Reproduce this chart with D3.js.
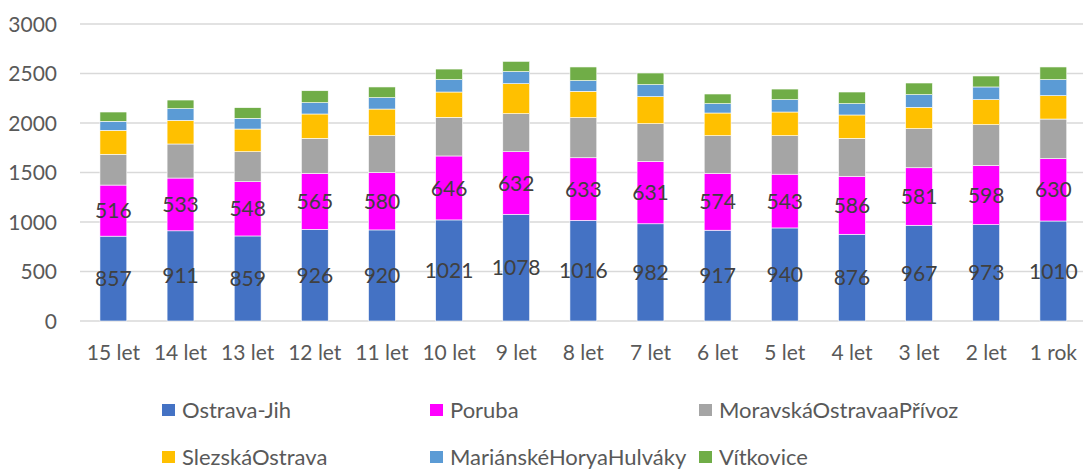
<!DOCTYPE html>
<html><head><meta charset="utf-8">
<script src="https://cdn.jsdelivr.net/npm/d3@7"></script>
<style>
html,body{margin:0;padding:0;background:#fff;}
svg text{font-family:"Lato","Open Sans",sans-serif;}
</style></head>
<body>
<svg id="c" width="1083" height="470"></svg>
<script>
const categories = ["15 let","14 let","13 let","12 let","11 let","10 let","9 let","8 let","7 let","6 let","5 let","4 let","3 let","2 let","1 rok"];
const seriesNames = ["Ostrava-Jih","Poruba","MoravskáOstravaaPřívoz","SlezskáOstrava","MariánskéHoryaHulváky","Vítkovice"];
const ostravaJih = [857,911,859,926,920,1021,1078,1016,982,917,940,876,967,973,1010];
const poruba = [516,533,548,565,580,646,632,633,631,574,543,586,581,598,630];
const moravskaOstrava = [311,344,303,354,372,390,384,405,380,381,389,383,395,412,400];
const slezskaOstrava = [242,239,229,246,269,256,303,266,273,229,239,236,215,253,236];
const marianskeHory = [91,118,108,114,115,125,122,108,121,94,125,114,128,128,162];
const vitkovice = [94,87,108,121,108,107,104,138,118,98,107,118,118,111,128];
const yTicks = [0,500,1000,1500,2000,2500,3000];
const colors = ["#4472C4","#FF00FF","#A5A5A5","#FFC000","#5B9BD5","#70AD47"];
const labeledSeries = [0,1];

const seriesValues = [ostravaJih, poruba, moravskaOstrava, slezskaOstrava, marianskeHory, vitkovice];
const rows = categories.map((c,i)=>{ const r={cat:c}; seriesNames.forEach((s,j)=>r[s]=seriesValues[j][i]); return r; });
const stack = d3.stack().keys(seriesNames)(rows);

const svg = d3.select("#c");
const x = d3.scaleBand().domain(categories).range([79.8,1086.9]).paddingInner(0.6).paddingOuter(0.3);
const y = d3.scaleLinear().domain([0,3000]).range([321,24]);

// gridlines
svg.append("g").selectAll("line").data(yTicks).join("line")
  .attr("x1",80).attr("x2",1083)
  .attr("y1",d=>y(d)).attr("y2",d=>y(d))
  .attr("stroke","#d9d9d9").attr("stroke-width",1.4);

// y axis labels
const yAxis = svg.append("g").attr("transform","translate(57,0)")
  .call(d3.axisLeft(y).tickValues(yTicks).tickFormat(d3.format("d")).tickSize(0).tickPadding(0));
yAxis.select(".domain").remove();
yAxis.selectAll("text").attr("fill","#595959").style("font-size","21px").attr("dy","0.35em");

// x axis labels
const xAxis = svg.append("g").attr("transform","translate(0,321)")
  .call(d3.axisBottom(x).tickSize(0).tickPadding(0));
xAxis.select(".domain").remove();
xAxis.selectAll("text").attr("fill","#595959").style("font-size","21px").attr("y",39).attr("dy",0);

// bars
const layers = svg.append("g").selectAll("g").data(stack).join("g")
  .attr("fill",(d,i)=>colors[i]);
layers.selectAll("rect").data(d=>d).join("rect")
  .attr("x",d=>x(d.data.cat))
  .attr("width",x.bandwidth())
  .attr("y",d=>y(d[1]))
  .attr("height",d=>y(d[0])-y(d[1]))
  .attr("stroke","#ffffff").attr("stroke-width",0.6);

// data labels
labeledSeries.forEach(si=>{
  svg.append("g").selectAll("text").data(stack[si]).join("text")
    .attr("x",d=>x(d.data.cat)+x.bandwidth()/2)
    .attr("y",d=>(y(d[0])+y(d[1]))/2)
    .attr("dy","0.36em")
    .attr("text-anchor","middle")
    .attr("fill","#404040")
    .style("font-size","21px")
    .text((d,i)=>seriesValues[si][i]);
});

// legend
const legendPos = [[162,410],[430,410],[699,410],[162,457],[430,457],[699,457]];
const lg = svg.append("g").selectAll("g").data(seriesNames).join("g")
  .attr("transform",(d,i)=>`translate(${legendPos[i][0]},${legendPos[i][1]})`);
lg.append("rect").attr("x",0).attr("y",-6).attr("width",13).attr("height",12).attr("fill",(d,i)=>colors[i]);
lg.append("text").attr("x",20).attr("y",0).attr("dy","0.36em").attr("fill","#595959").style("font-size","22px").text(d=>d);
</script>
</body></html>
